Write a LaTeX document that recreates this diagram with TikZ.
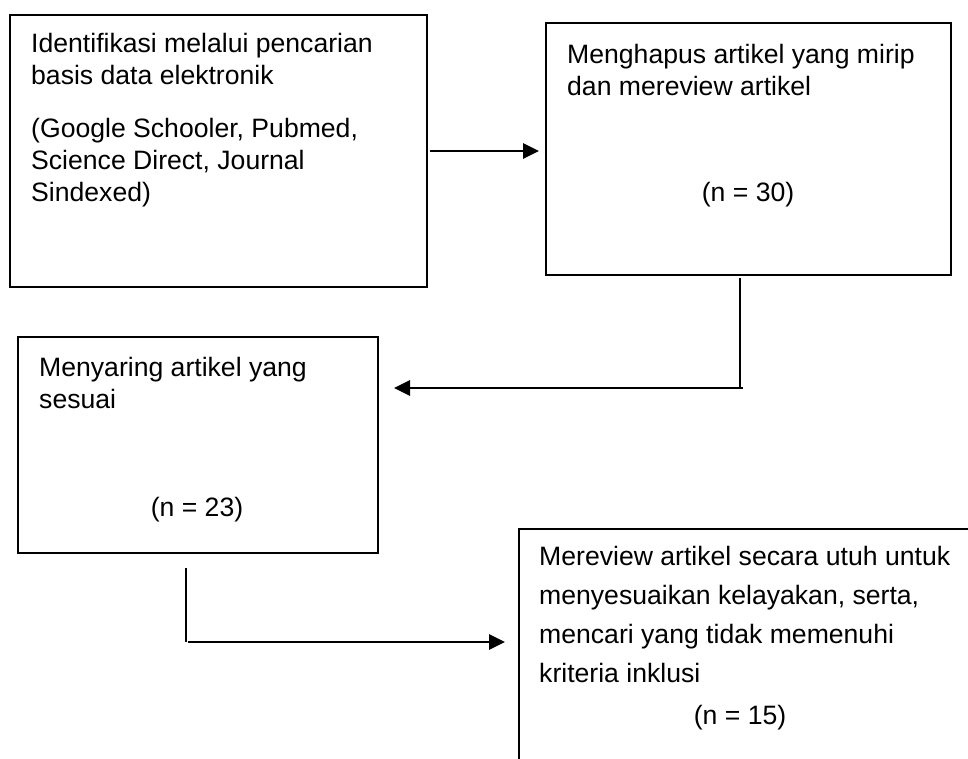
\documentclass[tikz,border=0pt]{standalone}
\usepackage{fontspec}
\setmainfont{Liberation Sans}
\usetikzlibrary{arrows.meta}
\begin{document}
\begin{tikzpicture}[x=1pt,y=-1pt,
  boxstyle/.style={draw=black, line width=2.2pt, inner sep=0pt, anchor=north west},
  conn/.style={line width=2.4pt},
  arr/.style={line width=2.8pt, -{Triangle[length=16pt,width=15pt]}},
  txt/.style={anchor=base west, inner sep=0pt, font=\fontsize{26.6}{32}\selectfont},
  cnt/.style={anchor=base, inner sep=0pt, font=\fontsize{26.6}{32}\selectfont}]
\useasboundingbox (0,0) rectangle (968,758);
\clip (0,0) rectangle (968,758);
% boxes
\node[boxstyle, minimum width=417pt, minimum height=272pt] (b1) at (9,14) {};
\node[boxstyle, minimum width=405pt, minimum height=252pt] (b2) at (545,22) {};
\node[boxstyle, minimum width=360pt, minimum height=216pt] (b3) at (17,336) {};
\node[boxstyle, minimum width=520pt, minimum height=320pt] (b4) at (518,528) {};
% texts
\node[txt] (t1) at (31,52) {\parbox[t]{390pt}{Identifikasi melalui pencarian\\basis data elektronik\\[21pt](Google Schooler, Pubmed,\\Science Direct, Journal\\Sindexed)}};
\node[txt] (t2) at (567,63) {\parbox[t]{380pt}{Menghapus artikel yang mirip\\dan mereview artikel}};
\node[cnt] (n2) at (748,201) {(n = 30)};
\node[txt] (t3) at (39,376) {\parbox[t]{330pt}{Menyaring artikel yang\\sesuai}};
\node[cnt] (n3) at (197,516) {(n = 23)};
\node[txt] (t4) at (539,565) {\parbox[t]{420pt}{\fontsize{26.6}{39}\selectfont Mereview artikel secara utuh untuk\\menyesuaikan kelayakan, serta,\\mencari yang tidak memenuhi\\kriteria inklusi}};
\node[cnt] (n4) at (740,724) {(n = 15)};
% connectors
\coordinate (a1s) at (430,151);
\coordinate (a1e) at (539,151);
\draw[arr] (a1s) -- (a1e);
\coordinate (c2a) at (740,278);
\coordinate (c2b) at (740,387);
\coordinate (c2c) at (743,388);
\coordinate (c2d) at (394,388);
\draw[conn] (c2a) -- (c2b);
\draw[arr] (c2c) -- (c2d);
\coordinate (c3a) at (186,568);
\coordinate (c3b) at (186,642);
\coordinate (c3c) at (188,642);
\coordinate (c3d) at (505,642);
\draw[conn] (c3a) -- (c3b);
\draw[arr] (c3c) -- (c3d);
\end{tikzpicture}
\end{document}
